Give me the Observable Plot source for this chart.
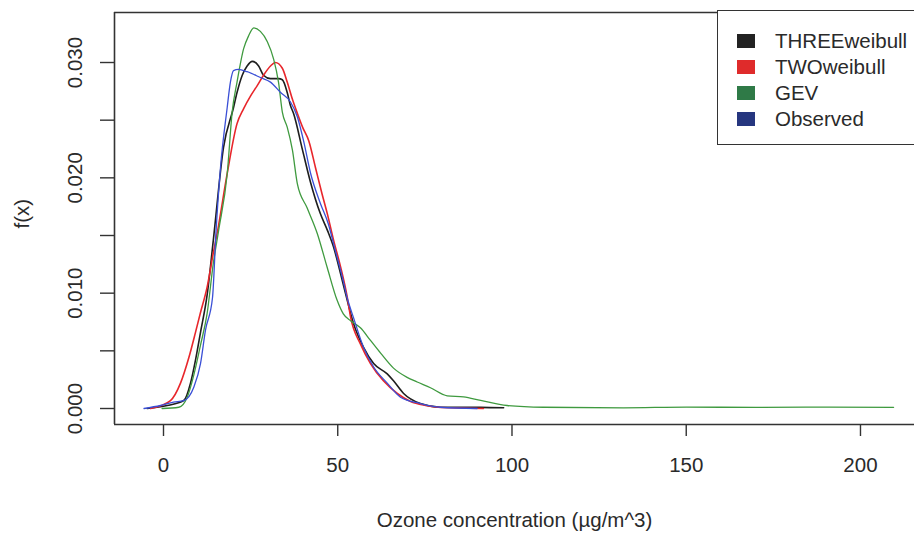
<!DOCTYPE html>
<html><head><meta charset="utf-8">
<script src="https://cdn.jsdelivr.net/npm/d3@7"></script>
<script src="https://cdn.jsdelivr.net/npm/@observablehq/plot@0.6"></script>
<style>
body{margin:0;background:#fff;font-family:"Liberation Sans",Arial,sans-serif;}
#wrap{position:relative;width:914px;height:534px;overflow:hidden;background:#fff;}
#legend{position:absolute;left:717px;top:10px;width:230px;height:133px;border:1.6px solid #333;background:#fff;}
.row{position:absolute;left:19px;height:26px;display:flex;align-items:center;font-size:20.5px;color:#2a2a2a;white-space:nowrap;}
.sw{width:18px;height:14px;margin-right:20px;display:inline-block;}
</style>
</head><body>
<div id="wrap"><div id="chart"></div><div id="legend"></div></div>
<script>
// Series names & colors
const seriesNames = ["THREEweibull", "TWOweibull", "GEV", "Observed"];
const lineColors = ["#1e1e1e", "#e8262b", "#3f9a3f", "#3a4fd6"];
const swatchColors = ["#222222", "#df2b2b", "#2f7a47", "#26367f"];

// THREEweibull
const threeX = [-4.7,1.06,5.82,7.75,9.18,10.62,12.5,14.3,17.2,20.1,21.1,22.6,24.0,25.5,27.3,28.7,30.7,33.0,34.1,35.5,36.4,37.3,39.9,42.2,45.0,47.1,48.8,50.8,52.2,54.5,57.4,60.3,64.2,66.0,68.9,73.7,79.5,91.0,97.6];
const threeY = [0,0.00026,0.00069,0.0022,0.0042,0.0066,0.0098,0.0146,0.0226,0.0261,0.0274,0.0289,0.0297,0.0301,0.0297,0.0289,0.0286,0.0286,0.0285,0.0274,0.0263,0.0256,0.0224,0.0196,0.0169,0.0154,0.0140,0.0117,0.0100,0.0074,0.0053,0.0039,0.0030,0.0024,0.0013,0.00043,0.00011,0.0001,0.00006];

// TWOweibull
const twoX = [-3.7,2.0,4.88,7.26,9.18,10.6,12.5,14.3,15.4,18.3,21.1,23.0,25.0,26.9,28.7,30.7,32.1,34.1,35.5,36.9,38.4,39.9,41.7,43.6,45.5,47.0,48.8,50.8,52.7,53.7,56.5,59.4,63.1,67.1,70.9,75.2,79.5,91.8];
const twoY = [0,0.00069,0.0022,0.0044,0.0066,0.0083,0.0105,0.0135,0.0152,0.0204,0.0247,0.0260,0.0271,0.0280,0.0289,0.0297,0.0300,0.0295,0.0283,0.0269,0.0256,0.0244,0.0232,0.0209,0.0186,0.0169,0.0146,0.0123,0.0097,0.0079,0.0056,0.0039,0.0024,0.0013,0.0006,0.00026,0.00009,0];

// GEV
const gevX = [-0.4,4.4,6.8,8.69,10.62,12.5,14.3,15.8,18.3,19.7,21.1,23.0,24.4,25.9,27.8,29.8,31.6,33.0,34.1,35.5,37.0,38.4,41.2,44.1,47.0,49.8,51.6,53.7,56.5,59.4,62.3,66.0,69.9,72.8,76.6,81.4,86.1,91.0,98.6,109.0,132.0,150.0,170.0,190.0,209.5];
const gevY = [0,0.00011,0.00098,0.0029,0.0055,0.0082,0.0126,0.0154,0.0204,0.0257,0.0283,0.0312,0.0323,0.0330,0.0327,0.0318,0.0303,0.0283,0.0257,0.0244,0.0224,0.0195,0.0174,0.0152,0.0122,0.0094,0.0082,0.0076,0.0070,0.0059,0.0048,0.0035,0.0027,0.0023,0.0018,0.0011,0.0010,0.0007,0.00026,0.00011,0.00006,0.00012,0.0001,0.00012,0.0001];

// Observed
const obsX = [-5.6,-0.86,2.87,5.82,8.69,10.62,12.05,14.06,15.06,16.36,18.28,19.2,20.1,21.5,24.0,27.8,30.7,33.6,36.4,38.4,40.2,42.2,45.0,47.3,49.3,51.3,52.7,54.5,57.4,60.3,64.2,68.0,73.7,79.5,90.0];
const obsY = [0,0.00026,0.00055,0.00069,0.00185,0.0039,0.0068,0.0096,0.0153,0.0209,0.0261,0.0283,0.0293,0.0294,0.0292,0.0287,0.0283,0.0274,0.0266,0.0253,0.0232,0.0204,0.0178,0.0160,0.0137,0.0114,0.0096,0.0079,0.0053,0.0036,0.0022,0.00098,0.00043,0.00011,0];

// Axis ticks
const xTicks = [0, 50, 100, 150, 200];
const yTickMarks = [0, 0.005, 0.01, 0.015, 0.02, 0.025, 0.03];
const yLabels = [0, 0.01, 0.02, 0.03];
const xLabel = "Ozone concentration (µg/m^3)";
const yLabel = "f(x)";

const xDom = [-14.06, 215.5];
const yDom = [-0.001387, 0.034336];

const toRows = (xs, ys) => xs.map((x, i) => ({x, y: ys[i]}));
const seriesData = [toRows(threeX, threeY), toRows(twoX, twoY), toRows(gevX, gevY), toRows(obsX, obsY)];
const widths = [1.6, 1.6, 1.3, 1.3];

const ink = "#333";
const chart = Plot.plot({
  width: 914, height: 534,
  marginLeft: 114, marginRight: 0, marginTop: 12, marginBottom: 110,
  x: {domain: xDom},
  y: {domain: yDom},
  style: {fontFamily: "'Liberation Sans', Arial, sans-serif", fontSize: "20px", color: ink, background: "transparent", overflow: "hidden"},
  marks: [
    Plot.ruleY([yDom[1]], {stroke: ink, strokeWidth: 1.6}),
    Plot.ruleY([yDom[0]], {stroke: ink, strokeWidth: 1.6}),
    Plot.ruleX([xDom[0]], {stroke: ink, strokeWidth: 1.6}),
    Plot.axisX({ticks: xTicks, tickSize: 12, tickFormat: () => "", label: null, stroke: ink, strokeWidth: 1.4}),
    Plot.axisY({ticks: yTickMarks, tickSize: 14, tickFormat: () => "", label: null, stroke: ink, strokeWidth: 1.4}),
    Plot.text(xTicks, {x: d => d, text: d => String(d), frameAnchor: "bottom", dy: 41, lineAnchor: "middle", fontSize: 20.5, fill: "#2a2a2a"}),
    Plot.text(yLabels, {y: d => d, text: d => d.toFixed(3), frameAnchor: "left", dx: -39, rotate: -90, lineAnchor: "middle", textAnchor: "middle", fontSize: 20.5, fill: "#2a2a2a"}),
    Plot.text([xLabel], {text: d => d, frameAnchor: "bottom", dy: 96, lineAnchor: "middle", fontSize: 20.5, fill: "#2a2a2a"}),
    Plot.text([yLabel], {text: d => d, frameAnchor: "left", dx: -92, dy: 10, rotate: -90, lineAnchor: "middle", fontSize: 20.5, fill: "#2a2a2a"}),
    ...seriesData.map((rows, i) => Plot.line(rows, {x: "x", y: "y", stroke: lineColors[i], strokeWidth: widths[i], curve: "monotone-x"}))
  ]
});
document.getElementById("chart").appendChild(chart);

const legend = document.getElementById("legend");
const rowTops = [17, 43, 69, 95];
seriesNames.forEach((name, i) => {
  const r = document.createElement("div");
  r.className = "row";
  r.style.top = rowTops[i] + "px";
  const sw = document.createElement("span");
  sw.className = "sw";
  sw.style.background = swatchColors[i];
  r.appendChild(sw);
  r.appendChild(document.createTextNode(name));
  legend.appendChild(r);
});
</script>
</body></html>
